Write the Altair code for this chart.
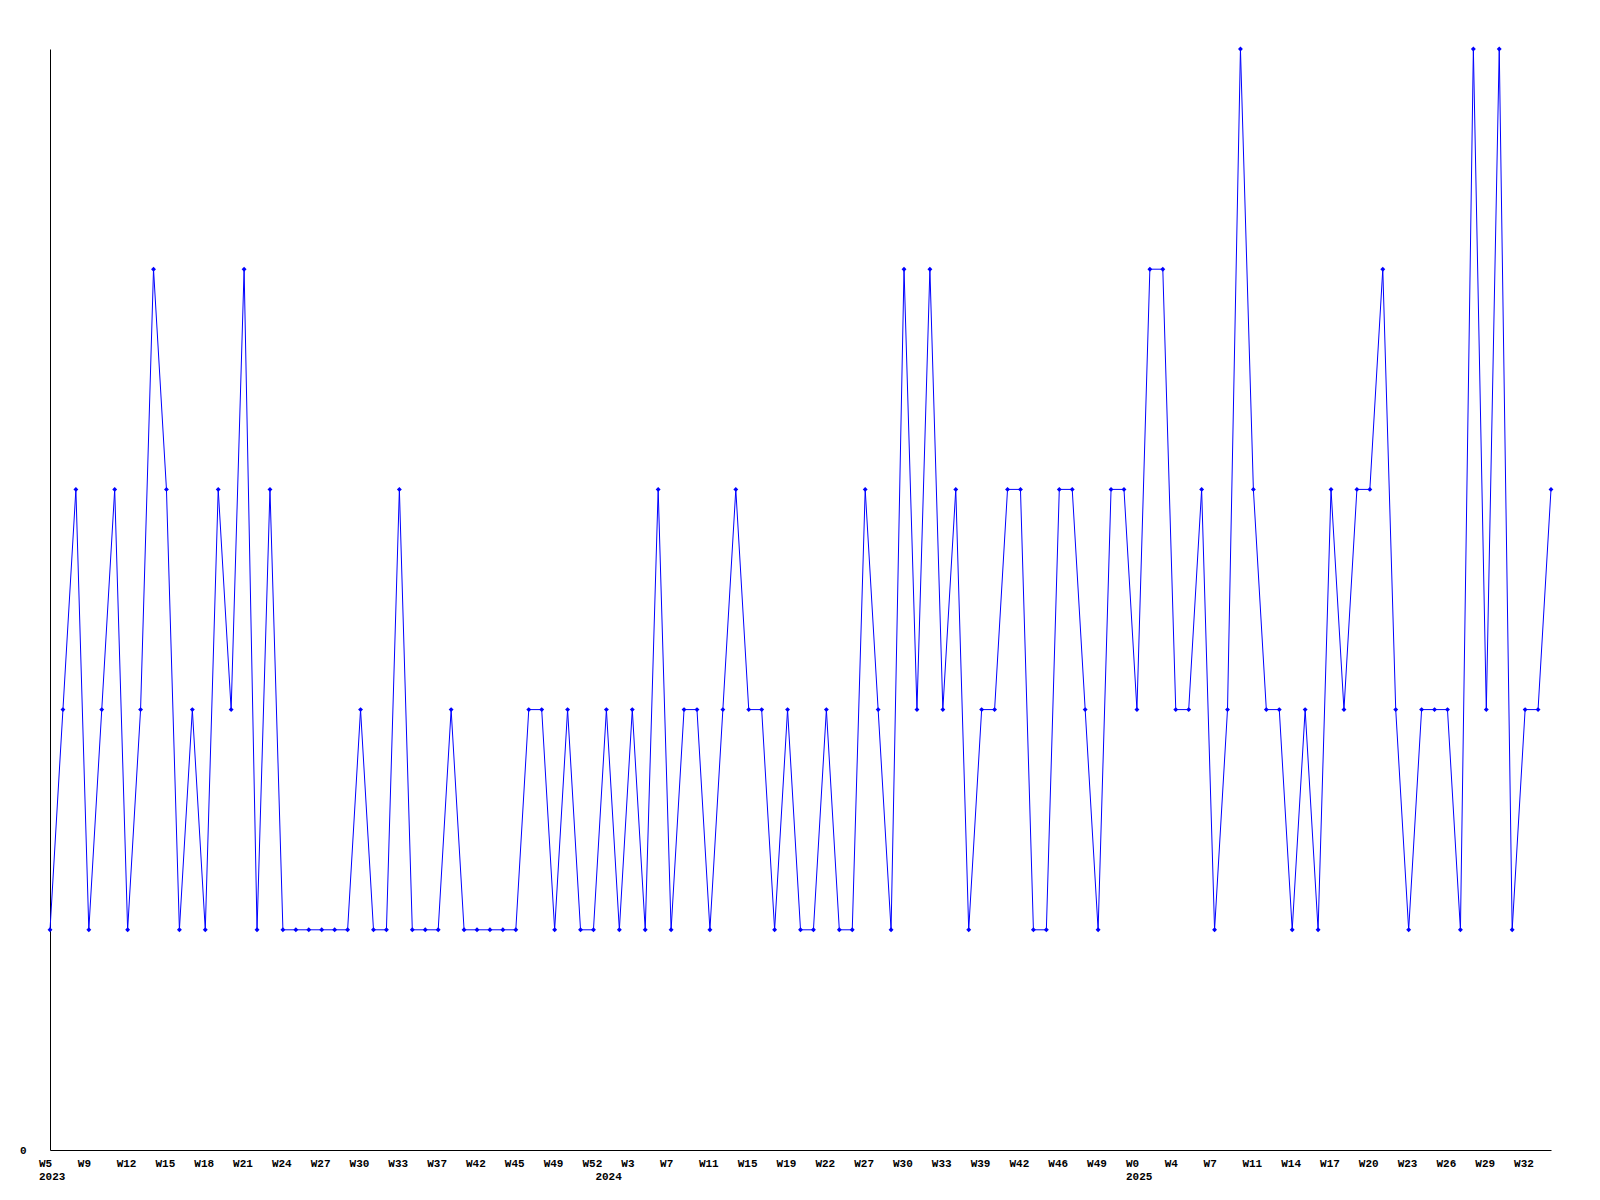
import altair as alt
import pandas as pd

weeks = [
    "W5", "W7", "W8", "W9", "W10", "W11", "W12", "W13", "W14", "W15",
    "W16", "W17", "W18", "W19", "W20", "W21", "W22", "W23", "W24", "W25",
    "W26", "W27", "W28", "W29", "W30", "W31", "W32", "W33", "W35", "W36",
    "W37", "W39", "W40", "W42", "W43", "W44", "W45", "W47", "W48", "W49",
    "W50", "W51", "W52",
    "W1", "W2", "W3", "W5", "W6", "W7", "W9", "W10", "W11", "W13",
    "W14", "W15", "W17", "W18", "W19", "W20", "W21", "W22", "W24", "W26",
    "W27", "W28", "W29", "W30", "W31", "W32", "W33", "W35", "W37", "W39",
    "W40", "W41", "W42", "W44", "W45", "W46", "W47", "W48", "W49", "W50",
    "W51",
    "W0", "W2", "W3", "W4", "W5", "W6", "W7", "W9", "W10", "W11",
    "W12", "W13", "W14", "W15", "W16", "W17", "W18", "W19", "W20", "W21",
    "W22", "W23", "W24", "W25", "W26", "W27", "W28", "W29", "W30", "W31",
    "W32", "W33", "W34",
]
years = ["2023"] * 43 + ["2024"] * 41 + ["2025"] * 33

values = [
    1, 2, 3, 1, 2, 3, 1, 2, 4, 3,
    1, 2, 1, 3, 2, 4, 1, 3, 1, 1,
    1, 1, 1, 1, 2, 1, 1, 3, 1, 1,
    1, 2, 1, 1, 1, 1, 1, 2, 2, 1,
    2, 1, 1, 2, 1, 2, 1, 3, 1, 2,
    2, 1, 2, 3, 2, 2, 1, 2, 1, 1,
    2, 1, 1, 3, 2, 1, 4, 2, 4, 2,
    3, 1, 2, 2, 3, 3, 1, 1, 3, 3,
    2, 1, 3, 3, 2, 4, 4, 2, 2, 3,
    1, 2, 5, 3, 2, 2, 1, 2, 1, 3,
    2, 3, 3, 4, 2, 1, 2, 2, 2, 1,
    5, 2, 5, 1, 2, 2, 3,
]

n = len(values)
df = pd.DataFrame({"idx": list(range(n)), "week": weeks, "year": years, "value": values})

tick_idx = list(range(0, n - 1, 3))
tdf = pd.DataFrame({"idx": tick_idx, "week": [weeks[i] for i in tick_idx]})

year_rows = []
for i in range(n):
    if i == 0 or years[i] != years[i - 1]:
        year_rows.append({"idx": i, "year": years[i]})
ydf = pd.DataFrame(year_rows)

W = 1501
H = 1101
FONT = "Liberation Mono"

x_enc = alt.X(
    "idx:Q",
    scale=alt.Scale(domain=[0, n - 1], nice=False, zero=False),
    axis=alt.Axis(
        values=tick_idx,
        labels=False,
        ticks=False,
        grid=False,
        domainColor="black",
        domainWidth=1,
        title=None,
    ),
)
y_enc = alt.Y(
    "value:Q",
    scale=alt.Scale(domain=[0, 5], nice=False),
    axis=alt.Axis(
        values=[0],
        format="d",
        ticks=False,
        grid=False,
        domainColor="black",
        domainWidth=1,
        labelFont=FONT,
        labelFontWeight="bold",
        labelFontSize=11,
        labelColor="black",
        labelPadding=24,
        title=None,
    ),
)

base = alt.Chart(df)
line = base.mark_line(color="#0000FF", strokeWidth=1).encode(x=x_enc, y=y_enc)
pts = base.mark_point(shape="diamond", filled=True, color="#0000FF", size=24, opacity=1).encode(
    x="idx:Q", y="value:Q"
)
wk = alt.Chart(tdf).mark_text(
    font=FONT, fontWeight="bold", fontSize=11, color="black",
    align="left", baseline="top", dx=-11,
).encode(x="idx:Q", y=alt.value(H + 8), text="week:N")
yr = alt.Chart(ydf).mark_text(
    font=FONT, fontWeight="bold", fontSize=11, color="black",
    align="left", baseline="top", dx=-11,
).encode(x="idx:Q", y=alt.value(H + 21), text="year:N")

chart = alt.layer(line, pts, wk, yr).properties(
    width=W,
    height=H,
    background="white",
    autosize=alt.AutoSizeParams(type="none"),
    padding={"left": 42, "top": 41, "right": 30, "bottom": 40},
).configure_view(stroke=None, strokeWidth=0)

chart.save("out.html", embed_options={"renderer": "svg", "actions": False})
